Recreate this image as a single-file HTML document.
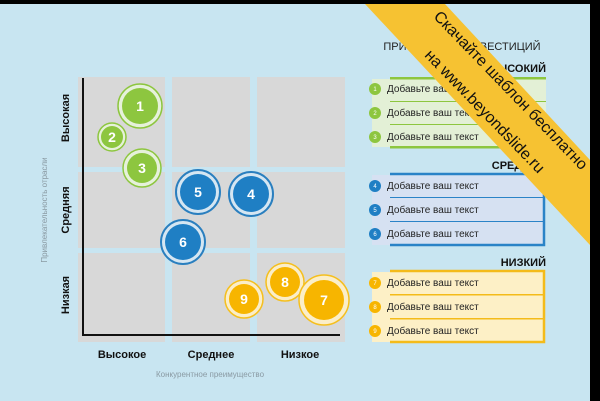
<!DOCTYPE html>
<html><head><meta charset="utf-8"><style>
html,body{margin:0;padding:0;background:#c8e5f1;}
svg{display:block;font-family:"Liberation Sans","DejaVu Sans",sans-serif;}
</style></head><body>
<svg width="600" height="401" viewBox="0 0 600 401" xmlns="http://www.w3.org/2000/svg">
<rect width="600" height="401" fill="#c8e5f1"/>
<rect x="0" y="0" width="600" height="4" fill="#000"/>
<rect x="590" y="0" width="10" height="401" fill="#000"/>
<g fill="#d8d8d8">
<rect x="78" y="77" width="87" height="90"/><rect x="172" y="77" width="78" height="90"/><rect x="257" y="77" width="88" height="90"/>
<rect x="78" y="172" width="87" height="76"/><rect x="172" y="172" width="78" height="76"/><rect x="257" y="172" width="88" height="76"/>
<rect x="78" y="253" width="87" height="89"/><rect x="172" y="253" width="78" height="89"/><rect x="257" y="253" width="88" height="89"/>
</g>
<path d="M83 78 V335 H340" stroke="#111" stroke-width="2" fill="none"/>
<g font-weight="bold" font-size="11" fill="#111" text-anchor="middle">
<text transform="translate(69,118) rotate(-90)">Высокая</text>
<text transform="translate(69,210) rotate(-90)">Средняя</text>
<text transform="translate(69,295) rotate(-90)">Низкая</text>
<text x="122" y="358">Высокое</text>
<text x="211" y="358">Среднее</text>
<text x="300" y="358">Низкое</text>
</g>
<g font-size="8" fill="#8a9aa3" text-anchor="middle">
<text x="210" y="377">Конкурентное преимущество</text>
<text transform="translate(47,210) rotate(-90)">Привлекательность отрасли</text>
</g>
<g font-weight="bold" font-size="14" fill="#fff" text-anchor="middle">
<g><circle cx="140" cy="106" r="22" fill="#e6f1da" stroke="#8dc63f" stroke-width="1.5"/><circle cx="140" cy="106" r="18" fill="#8dc63f"/><text x="140" y="111">1</text></g>
<g><circle cx="112" cy="137" r="14" fill="#e6f1da" stroke="#8dc63f" stroke-width="1.5"/><circle cx="112" cy="137" r="11" fill="#8dc63f"/><text x="112" y="142">2</text></g>
<g><circle cx="142" cy="168" r="19" fill="#e6f1da" stroke="#8dc63f" stroke-width="1.5"/><circle cx="142" cy="168" r="15" fill="#8dc63f"/><text x="142" y="173">3</text></g>
<g><circle cx="198" cy="192" r="22" fill="#d5e6f2" stroke="#2a7fbf" stroke-width="2"/><circle cx="198" cy="192" r="18" fill="#1f7fc4"/><text x="198" y="197">5</text></g>
<g><circle cx="251" cy="194" r="22" fill="#d5e6f2" stroke="#2a7fbf" stroke-width="2"/><circle cx="251" cy="194" r="18" fill="#1f7fc4"/><text x="251" y="199">4</text></g>
<g><circle cx="183" cy="242" r="22" fill="#d5e6f2" stroke="#2a7fbf" stroke-width="2"/><circle cx="183" cy="242" r="18" fill="#1f7fc4"/><text x="183" y="247">6</text></g>
<g><circle cx="244" cy="299" r="19" fill="#fbeec8" stroke="#f5bf1e" stroke-width="1.5"/><circle cx="244" cy="299" r="15" fill="#f7b500"/><text x="244" y="304">9</text></g>
<g><circle cx="285" cy="282" r="19" fill="#fbeec8" stroke="#f5bf1e" stroke-width="1.5"/><circle cx="285" cy="282" r="15" fill="#f7b500"/><text x="285" y="287">8</text></g>
<g><circle cx="324" cy="300" r="25" fill="#fbeec8" stroke="#f5bf1e" stroke-width="1.5"/><circle cx="324" cy="300" r="20" fill="#f7b500"/><text x="324" y="305">7</text></g>
</g>
<text x="462" y="50" font-size="11" fill="#222" text-anchor="middle">ПРИОРИТЕТЫ ИНВЕСТИЦИЙ</text>
<g font-weight="bold" font-size="11" fill="#111" text-anchor="end">
<text x="546" y="72">ВЫСОКИЙ</text>
<text x="546" y="169">СРЕДНИЙ</text>
<text x="546" y="266">НИЗКИЙ</text>
</g>
<rect x="372" y="79" width="174" height="68" fill="#e3f0d6"/>
<rect x="390" y="77" width="156" height="2.5" fill="#8dc63f"/>
<rect x="390" y="146" width="156" height="2.5" fill="#8dc63f"/>
<rect x="390" y="101" width="156" height="1" fill="#8dc63f"/>
<rect x="390" y="124" width="156" height="1" fill="#8dc63f"/>
<rect x="372" y="175" width="172" height="70" fill="#d6e1f2"/>
<path d="M390 174 H544 V245 H390" stroke="#2a83c7" stroke-width="2.5" fill="none"/>
<rect x="390" y="197" width="154" height="1" fill="#2a83c7"/>
<rect x="390" y="221" width="154" height="1" fill="#2a83c7"/>
<rect x="372" y="272" width="172" height="70" fill="#fdf0c6"/>
<path d="M390 271 H544 V342 H390" stroke="#f4bb1a" stroke-width="2.5" fill="none"/>
<rect x="390" y="294" width="154" height="1.5" fill="#f4bb1a"/>
<rect x="390" y="318" width="154" height="1.5" fill="#f4bb1a"/>
<g font-size="10" fill="#222">
<text x="387" y="92">Добавьте ваш текст</text>
<text x="387" y="116">Добавьте ваш текст</text>
<text x="387" y="140">Добавьте ваш текст</text>
<text x="387" y="189">Добавьте ваш текст</text>
<text x="387" y="213">Добавьте ваш текст</text>
<text x="387" y="237">Добавьте ваш текст</text>
<text x="387" y="286">Добавьте ваш текст</text>
<text x="387" y="310">Добавьте ваш текст</text>
<text x="387" y="334">Добавьте ваш текст</text>
</g>
<g font-size="6" fill="#fff" text-anchor="middle">
<circle cx="375" cy="89" r="6" fill="#8dc63f"/><text x="375" y="91">1</text>
<circle cx="375" cy="113" r="6" fill="#8dc63f"/><text x="375" y="115">2</text>
<circle cx="375" cy="137" r="6" fill="#8dc63f"/><text x="375" y="139">3</text>
<circle cx="375" cy="186" r="6" fill="#1f7fc4"/><text x="375" y="188">4</text>
<circle cx="375" cy="210" r="6" fill="#1f7fc4"/><text x="375" y="212">5</text>
<circle cx="375" cy="234" r="6" fill="#1f7fc4"/><text x="375" y="236">6</text>
<circle cx="375" cy="283" r="6" fill="#f7b500"/><text x="375" y="285">7</text>
<circle cx="375" cy="307" r="6" fill="#f7b500"/><text x="375" y="309">8</text>
<circle cx="375" cy="331" r="6" fill="#f7b500"/><text x="375" y="333">9</text>
</g>
<polygon points="365,4 445,4 590,160 590,245" fill="#f6c232"/>
<g font-size="16" fill="#111" text-anchor="middle">
<text transform="translate(507,94) rotate(46)">Скачайте шаблон бесплатно</text>
<text transform="translate(481,115) rotate(46)">на www.beyondslide.ru</text>
</g>
</svg>
</body></html>
